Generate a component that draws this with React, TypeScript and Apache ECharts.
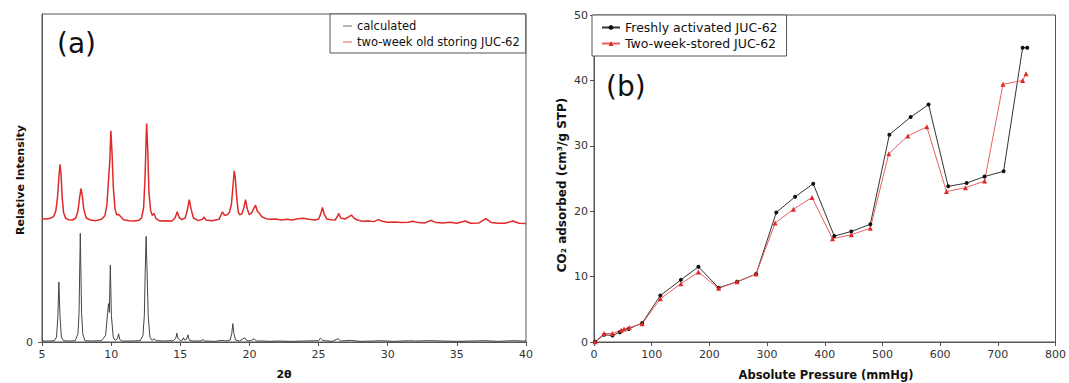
import React, { useEffect, useRef } from "react";
import * as echarts from "echarts";

// ---------- Panel (a): PXRD ----------
const calcTheta = [5.0, 5.5, 5.9, 6.05, 6.15, 6.22, 6.3, 6.4, 6.55, 7.0, 7.4, 7.6, 7.68, 7.77, 7.86, 7.95, 8.1, 8.6, 9.3, 9.6, 9.75, 9.81, 9.87, 9.94, 10.02, 10.15, 10.3, 10.45, 10.54, 10.62, 10.8, 11.5, 12.1, 12.3, 12.4, 12.46, 12.53, 12.6, 12.68, 12.8, 12.95, 13.1, 13.25, 13.8, 14.5, 14.68, 14.75, 14.83, 15.0, 15.15, 15.23, 15.3, 15.45, 15.55, 15.65, 15.9, 16.5, 16.65, 16.75, 17.5, 17.97, 18.3, 18.6, 18.72, 18.8, 18.88, 19.0, 19.3, 19.67, 19.8, 20.1, 20.34, 20.5, 21.0, 21.5, 22.0, 23.0, 24.0, 25.0, 25.13, 25.3, 25.5, 26.0, 26.4, 26.6, 27.3, 28.0, 29.0, 29.5, 30.5, 31.5, 32.0, 33.0, 34.0, 35.0, 36.0, 37.0, 38.0, 39.0, 40.0];
const calcInt = [0.3, 0.3, 0.4, 1.5, 8, 18.3, 8, 1.5, 0.4, 0.3, 0.4, 2.5, 9, 33.1, 9, 2.5, 0.4, 0.3, 0.4, 2, 9, 11.7, 9, 23.4, 8, 1.5, 0.5, 1, 2.5, 0.8, 0.3, 0.3, 0.4, 2, 8, 20.9, 32.2, 20.9, 8, 1.5, 0.5, 1, 0.4, 0.3, 0.4, 1.2, 2.7, 1.2, 0.4, 0.6, 1.3, 0.6, 0.8, 2.2, 0.6, 0.3, 0.3, 0.8, 0.3, 0.2, 0.5, 0.3, 0.6, 2.5, 5.6, 2.5, 0.6, 0.3, 1.3, 0.4, 0.4, 1.0, 0.3, 0.3, 0.2, 0.3, 0.2, 0.3, 0.4, 1.2, 0.5, 0.4, 0.2, 1.0, 0.3, 0.5, 0.2, 0.3, 0.4, 0.2, 0.4, 0.3, 0.4, 0.3, 0.2, 0.3, 0.4, 0.2, 0.4, 0.3];

const expTheta = [5.0, 5.3, 5.6, 5.85, 6.0, 6.12, 6.22, 6.3, 6.38, 6.46, 6.56, 6.7, 6.9, 7.2, 7.45, 7.6, 7.72, 7.82, 7.92, 8.02, 8.2, 8.5, 8.9, 9.3, 9.55, 9.7, 9.82, 9.9, 9.98, 10.06, 10.16, 10.28, 10.4, 10.52, 10.65, 10.9, 11.3, 11.7, 12.0, 12.2, 12.35, 12.45, 12.53, 12.57, 12.65, 12.73, 12.85, 12.97, 13.1, 13.25, 13.5, 14.0, 14.4, 14.62, 14.78, 14.92, 15.1, 15.35, 15.5, 15.65, 15.78, 15.95, 16.3, 16.6, 16.72, 16.85, 17.3, 17.8, 17.95, 18.05, 18.2, 18.4, 18.55, 18.7, 18.82, 18.9, 18.98, 19.08, 19.2, 19.3, 19.45, 19.6, 19.72, 19.85, 20.0, 20.15, 20.3, 20.44, 20.58, 20.72, 20.9, 21.2, 21.5, 21.9, 22.3, 22.7, 23.1, 23.5, 23.9, 24.3, 24.7, 25.0, 25.15, 25.28, 25.42, 25.6, 25.9, 26.2, 26.35, 26.45, 26.6, 26.9, 27.2, 27.38, 27.55, 27.8, 28.2, 28.6, 29.0, 29.32, 29.6, 30.0, 30.5, 31.0, 31.5, 31.8, 32.2, 32.7, 33.14, 33.5, 34.0, 34.5, 35.0, 35.6, 36.0, 36.6, 37.1, 37.5, 38.0, 38.5, 39.05, 39.5, 40.0];
const expInt = [37.6, 37.5, 37.7, 38.3, 40, 44, 50, 54.2, 51, 44, 39.5, 37.8, 37.3, 37.2, 37.8, 40, 44, 46.8, 44.5, 40.5, 37.8, 37.2, 37.0, 37.4, 38.5, 42, 50, 55, 64.4, 58, 47, 40.5, 38.8, 38.9, 38.4, 37.3, 37.0, 36.9, 37.1, 37.8, 41, 50, 62, 66.6, 58, 46, 40.2, 38.6, 39.2, 37.6, 36.9, 37.0, 36.9, 37.8, 39.7, 38.0, 37.3, 37.8, 40, 43.4, 40.5, 37.8, 37.0, 37.4, 38.1, 37.2, 37.0, 37.4, 38.8, 39.7, 38.6, 38.8, 39.5, 42, 48, 52.2, 50, 44, 39.5, 38.8, 39, 41, 43.4, 40.5, 38.8, 39.3, 40.6, 41.7, 39.8, 39.3, 38.2, 37.6, 37.4, 37.5, 37.2, 37.4, 37.2, 37.6, 37.7, 37.4, 37.2, 37.4, 39, 41.0, 38.8, 37.5, 37.3, 37.2, 38.2, 39.2, 37.8, 37.5, 38.2, 38.7, 37.8, 37.2, 36.8, 36.9, 36.7, 37.3, 36.8, 36.5, 36.6, 36.4, 36.5, 36.8, 36.4, 36.3, 37.1, 36.4, 36.3, 36.5, 36.2, 36.9, 36.2, 36.3, 37.6, 36.4, 36.2, 36.2, 36.9, 36.2, 36.1];

const thetaTicks = [5, 10, 15, 20, 25, 30, 35, 40];

// ---------- Panel (b): CO2 isotherm ----------
const freshP = [2, 17.5, 32, 45, 60, 83.5, 115, 150.6, 181, 216, 248, 281, 316, 348.6, 380, 416.5, 446, 479, 512, 549, 580, 614, 646, 677, 710, 743, 751];
const freshQ = [0.05, 1.1, 1.0, 1.5, 2.0, 2.9, 7.1, 9.5, 11.5, 8.3, 9.2, 10.4, 19.8, 22.2, 24.2, 16.2, 16.9, 18.0, 31.7, 34.4, 36.3, 23.8, 24.3, 25.3, 26.1, 45.0, 45.0];
const storedP = [2, 17.5, 32, 47, 52, 61, 83.5, 115, 150.6, 181, 216, 248, 281, 314, 345.7, 378, 413.5, 446, 479, 511, 544, 577, 611, 644, 677, 709, 743, 749];
const storedQ = [0.05, 1.3, 1.3, 1.8, 2.0, 2.2, 2.8, 6.6, 8.9, 10.7, 8.2, 9.2, 10.4, 18.2, 20.3, 22.1, 15.8, 16.4, 17.4, 28.8, 31.5, 32.9, 23.0, 23.6, 24.6, 39.4, 40.0, 41.0];

const FONT = "DejaVu Sans";
const AX = "#555";

function zip(a: number[], b: number[]) {
  return a.map((v, i) => [v, b[i]]);
}

export default function App() {
  const ref = useRef<HTMLDivElement>(null);
  useEffect(() => {
    if (!ref.current) return;
    const chart = echarts.init(ref.current, undefined, { renderer: "svg" });
    const axisCommon = {
      axisLine: { show: true, lineStyle: { color: AX, width: 1 } },
      axisTick: { show: true, length: 4, inside: false, lineStyle: { color: AX } },
      splitLine: { show: false },
      axisLabel: { color: "#333", fontSize: 11, fontFamily: FONT },
    };
    chart.setOption({
      animation: false,
      backgroundColor: "#fff",
      grid: [
        { left: 42, top: 14, width: 484, height: 328, show: true, borderColor: AX, borderWidth: 1, backgroundColor: "transparent" },
        { left: 594, top: 15, width: 463, height: 327, show: true, borderColor: AX, borderWidth: 1, backgroundColor: "transparent" },
      ],
      xAxis: [
        {
          ...axisCommon, type: "value", gridIndex: 0, min: 5, max: 40, interval: 5,
          axisLabel: { ...axisCommon.axisLabel, margin: 7, customValues: thetaTicks },
          axisTick: { ...axisCommon.axisTick, customValues: thetaTicks },
        },
        {
          ...axisCommon, type: "value", gridIndex: 1, min: 0, max: 800, interval: 100,
          axisLabel: { ...axisCommon.axisLabel, margin: 7 },
        },
      ],
      yAxis: [
        {
          ...axisCommon, type: "value", gridIndex: 0, min: 0, max: 100, interval: 100,
          axisLabel: { ...axisCommon.axisLabel, margin: 9, customValues: [0] },
          axisTick: { ...axisCommon.axisTick, customValues: [0] },
        },
        {
          ...axisCommon, type: "value", gridIndex: 1, min: 0, max: 50, interval: 10,
          axisLabel: { ...axisCommon.axisLabel, margin: 6 },
        },
      ],
      legend: [
        {
          data: [
            { name: "calculated", icon: "rect" },
            { name: "two-week old storing JUC-62", icon: "rect" },
          ],
          left: 330, top: 14, orient: "vertical",
          itemWidth: 9, itemHeight: 1, itemGap: 4,
          padding: [6, 6, 5, 13],
          borderColor: AX, borderWidth: 1, backgroundColor: "#fff",
          textStyle: { fontSize: 11.5, fontFamily: FONT, color: "#111" },
        },
        {
          data: ["Freshly activated JUC-62", "Two-week-stored JUC-62"],
          left: 592, top: 15, orient: "vertical",
          itemWidth: 18, itemHeight: 6, itemGap: 3,
          padding: [6, 9, 6, 9],
          borderColor: AX, borderWidth: 1, backgroundColor: "#fff",
          textStyle: { fontSize: 12.5, fontFamily: FONT, color: "#111" },
        },
      ],
      series: [
        {
          name: "calculated", type: "line", xAxisIndex: 0, yAxisIndex: 0,
          data: zip(calcTheta, calcInt), symbol: "none",
          lineStyle: { color: "#444", width: 1 }, itemStyle: { color: "#666" },
        },
        {
          name: "two-week old storing JUC-62", type: "line", xAxisIndex: 0, yAxisIndex: 0,
          data: zip(expTheta, expInt), symbol: "none",
          lineStyle: { color: "#e02a2a", width: 1.5 }, itemStyle: { color: "#e86060" },
        },
        {
          name: "Freshly activated JUC-62", type: "line", xAxisIndex: 1, yAxisIndex: 1,
          data: zip(freshP, freshQ), symbol: "circle", symbolSize: 4,
          lineStyle: { color: "#333", width: 1 }, itemStyle: { color: "#111" },
        },
        {
          name: "Two-week-stored JUC-62", type: "line", xAxisIndex: 1, yAxisIndex: 1,
          data: zip(storedP, storedQ), symbol: "triangle", symbolSize: 5,
          lineStyle: { color: "#e86060", width: 1 }, itemStyle: { color: "#dd2a2a" },
        },
      ],
      graphic: [
        { type: "text", x: 57, y: 43, style: { text: "(a)", fontSize: 28, fontFamily: FONT, fill: "#111", align: "left", verticalAlign: "middle" } },
        { type: "text", x: 606, y: 86, style: { text: "(b)", fontSize: 28, fontFamily: FONT, fill: "#111", align: "left", verticalAlign: "middle" } },
        { type: "text", x: 20, y: 180, rotation: Math.PI / 2, style: { text: "Relative Intensity", fontSize: 11, fontWeight: "bold", fontFamily: FONT, fill: "#111", align: "center", verticalAlign: "middle" } },
        { type: "text", x: 284, y: 374, style: { text: "2θ", fontSize: 11, fontWeight: "bold", fontFamily: FONT, fill: "#111", align: "center", verticalAlign: "middle" } },
        { type: "text", x: 562, y: 185, rotation: Math.PI / 2, style: { text: "CO₂ adsorbed (cm³/g STP)", fontSize: 12, fontWeight: "bold", fontFamily: FONT, fill: "#111", align: "center", verticalAlign: "middle" } },
        { type: "text", x: 826, y: 375, style: { text: "Absolute Pressure (mmHg)", fontSize: 11.5, fontWeight: "bold", fontFamily: FONT, fill: "#111", align: "center", verticalAlign: "middle" } },
      ],
    });
    return () => chart.dispose();
  }, []);
  return <div ref={ref} style={{ position: "absolute", left: 0, top: 0, width: 1069, height: 383 }} />;
}
